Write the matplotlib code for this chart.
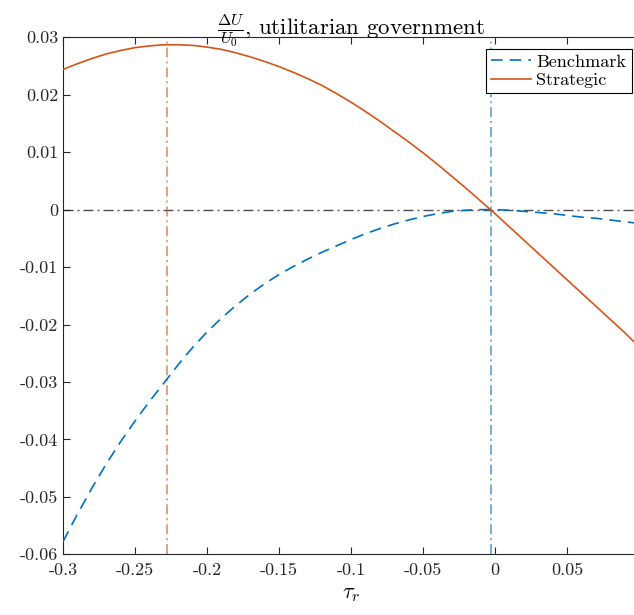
import numpy as np
import matplotlib
matplotlib.use("agg")
from matplotlib import pyplot as plt

plt.rcParams["font.family"] = "serif"
plt.rcParams["font.serif"] = ["cmr10", "DejaVu Serif"]
plt.rcParams["mathtext.fontset"] = "cm"
plt.rcParams["axes.unicode_minus"] = False

# tau_r grid
tau = [-0.30, -0.29, -0.28, -0.27, -0.26, -0.25, -0.24, -0.23, -0.22, -0.21,
       -0.20, -0.19, -0.18, -0.17, -0.16, -0.15, -0.14, -0.13, -0.12, -0.11,
       -0.10, -0.09, -0.08, -0.07, -0.06, -0.05, -0.04, -0.03, -0.02, -0.01,
       0.00, 0.01, 0.02, 0.03, 0.04, 0.05, 0.06, 0.07, 0.08, 0.09, 0.0965]

benchmark = [-0.0578, -0.0530, -0.0485, -0.0443, -0.0404, -0.0368, -0.0334, -0.0302, -0.0270, -0.0240,
             -0.0213, -0.0189, -0.0167, -0.0147, -0.0129, -0.0113, -0.0099, -0.0086, -0.0074, -0.0063,
             -0.0052, -0.0042, -0.0033, -0.0025, -0.0018, -0.0012, -0.0007, -0.0003, -0.0001, 0.0000,
             0.0000, -0.0001, -0.0003, -0.0005, -0.0007, -0.0010, -0.0013, -0.0015, -0.0018, -0.0021, -0.0023]

strategic = [0.0244, 0.0254, 0.0263, 0.0271, 0.0277, 0.0282, 0.0285, 0.02870, 0.02870, 0.0286,
             0.0283, 0.0279, 0.0273, 0.0266, 0.0258, 0.0249, 0.0239, 0.0228, 0.0216, 0.0202,
             0.0187, 0.0171, 0.0154, 0.0136, 0.0118, 0.0099, 0.0079, 0.0058, 0.0037, 0.0015,
             -0.0007, -0.0030, -0.0053, -0.0076, -0.0099, -0.0122, -0.0145, -0.0168, -0.0191, -0.0214, -0.0230]

opt_strategic = -0.228
opt_benchmark = -0.003

xticks = [-0.3, -0.25, -0.2, -0.15, -0.1, -0.05, 0, 0.05]
xticklabels = ["-0.3", "-0.25", "-0.2", "-0.15", "-0.1", "-0.05", "0", "0.05"]
yticks = [-0.06, -0.05, -0.04, -0.03, -0.02, -0.01, 0, 0.01, 0.02, 0.03]
yticklabels = ["-0.06", "-0.05", "-0.04", "-0.03", "-0.02", "-0.01", "0", "0.01", "0.02", "0.03"]

blue = (0.0, 0.447, 0.741)
orange = (0.85, 0.325, 0.098)

fig = plt.figure(figsize=(6.34, 6.15), dpi=100)
# right edge of the axes is cut off by the figure, as in the original
ax = fig.add_axes([63 / 634, 60.7 / 615, 576 / 634, 517 / 615])

ax.axhline(0, color=(0.3, 0.3, 0.3), ls=(0, (7.2, 2.9, 1.4, 2.9)), lw=1.0, zorder=1)
ax.axvline(opt_strategic, color=orange, alpha=0.6, ls=(0, (5.5, 2.2, 1.1, 2.2)), lw=1.3, zorder=1)
ax.axvline(opt_benchmark, color=blue, alpha=0.6, ls=(0, (5.5, 2.2, 1.1, 2.2)), lw=1.3, zorder=1)

ax.plot(tau, benchmark, color=blue, ls=(0, (7, 4.2)), lw=1.2, label="Benchmark", zorder=3)
ax.plot(tau, strategic, color=orange, ls="-", lw=1.2, label="Strategic", zorder=3)

ax.set_xlim(-0.3, 0.1)
ax.set_ylim(-0.06, 0.03)
ax.set_xticks(xticks)
ax.set_xticklabels(xticklabels)
ax.set_yticks(yticks)
ax.set_yticklabels(yticklabels)
ax.tick_params(direction="in", top=True, right=False, length=5, width=0.8,
               labelsize=13, colors=(0.15, 0.15, 0.15))
ax.tick_params(axis="x", pad=6)
for s in ax.spines.values():
    s.set_color((0.15, 0.15, 0.15))
    s.set_linewidth(0.8)

ax.set_xlabel(r"$\tau_r$", fontsize=16, labelpad=5)
ax.set_title(r"$\frac{\Delta U}{U_0}$, utilitarian government", fontsize=16.5, pad=2)

leg = ax.legend(loc="upper right", bbox_to_anchor=(0.987, 0.978), fontsize=13,
                frameon=True, fancybox=False, edgecolor="black", framealpha=1,
                borderpad=0.3, handlelength=2.2, handletextpad=0.3, labelspacing=0.15,
                borderaxespad=0)
leg.get_frame().set_linewidth(0.8)

fig.savefig("out.png", dpi=100)
